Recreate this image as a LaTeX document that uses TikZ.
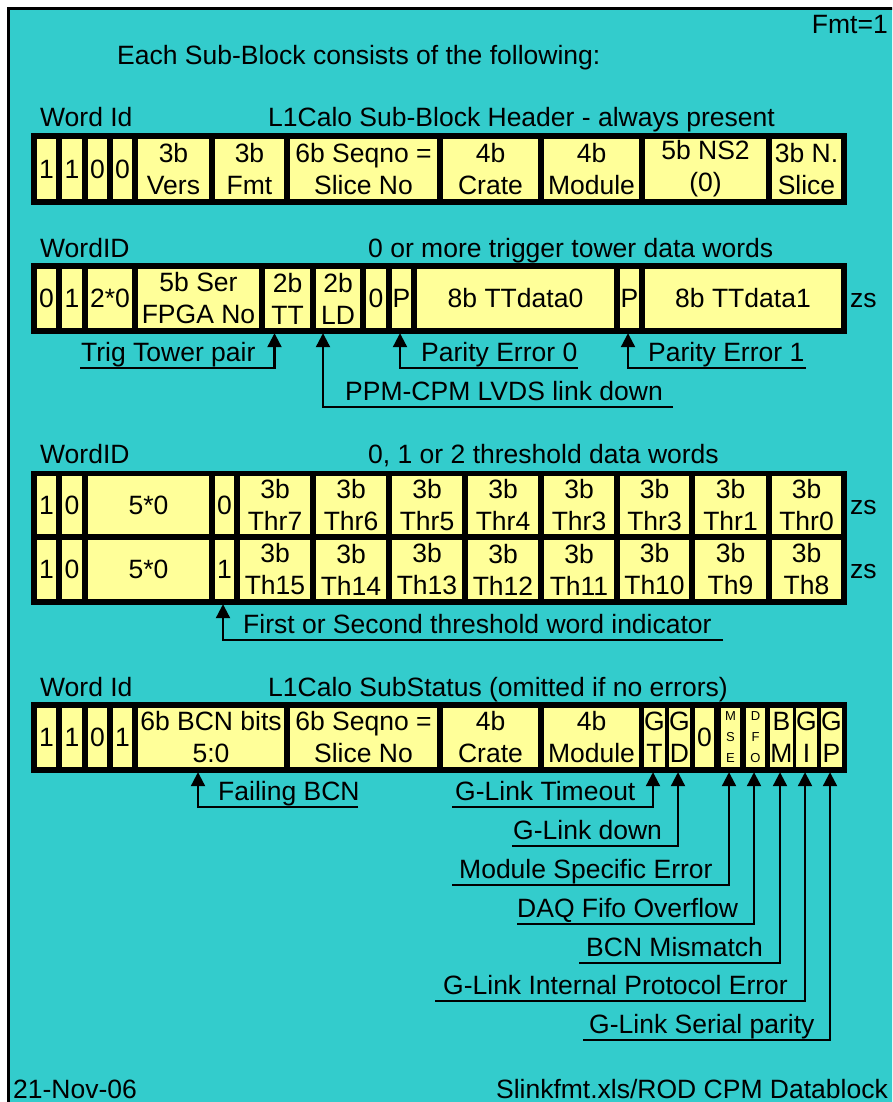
\documentclass[tikz,border=0pt]{standalone}
\usepackage{fontspec}
\setmainfont{Liberation Sans}
\usetikzlibrary{arrows.meta,calc}
\definecolor{bgcyan}{HTML}{33CCCC}
\definecolor{cellyellow}{HTML}{FFFF99}
\newcommand\bigfnt{\fontsize{26.5}{32}\selectfont}
\newcommand\tinyfnt{\fontsize{13}{21}\selectfont}
\newcommand\mkbox[7][cell]{%
  \pgfmathsetmacro\mkcx{(#3+#4)/2}%
  \pgfmathsetmacro\mkcy{(#5+#6)/2}%
  \pgfmathsetmacro\mkcw{#4-#3}%
  \pgfmathsetmacro\mkch{#6-#5}%
  \node[#1,minimum width=\mkcw pt,minimum height=\mkch pt] (#2) at (\mkcx,\mkcy) {#7};}
\begin{document}
\begin{tikzpicture}[x=1pt,y=-1pt,
  cell/.style={fill=cellyellow,inner sep=0pt,align=center,font=\bigfnt},
  tinycell/.style={fill=cellyellow,inner sep=0pt,align=center,font=\tinyfnt},
  bar/.style={fill=black,inner sep=0pt},
  lbl/.style={font=\bigfnt,inner sep=0pt,anchor=base west},
  conn/.style={line width=2.2pt,-{Triangle[width=14pt,length=14pt]},shorten >=5pt}]
\useasboundingbox (0,0) rectangle (892,1102);
\clip (0,0) rectangle (892,1102);
\fill[white] (0,0) rectangle (892,1102);
\draw[line width=3pt,fill=bgcyan] (8.5,8.5) rectangle (900,1110);

% top texts
\node[lbl,anchor=base east] (fmt) at (888,34) {Fmt=1};
\node[lbl] (intro) at (117,65) {Each Sub-Block consists of the following:};

% ---------- Header ----------
\node[lbl] (hid) at (40,127) {Word Id};
\node[lbl] (htitle) at (268,127) {L1Calo Sub-Block Header - always present};
\mkbox[bar]{hbar}{31}{847}{133}{205}{}
\mkbox{h1}{37}{56}{139}{199}{1}
\mkbox{h2}{62}{82}{139}{199}{1}
\mkbox{h3}{88}{107}{139}{199}{0}
\mkbox{h4}{113}{132}{139}{199}{0}
\mkbox{hVers}{138}{209}{139}{199}{3b\\Vers}
\mkbox{hFmt}{215}{284}{139}{199}{3b\\Fmt}
\mkbox{hSeq}{290}{437}{139}{199}{6b Seqno =\\Slice No}
\mkbox{hCrate}{443}{538}{139}{199}{4b\\Crate}
\mkbox{hMod}{544}{639}{139}{199}{4b\\Module}
\mkbox{hNS}{645}{766}{139}{199}{5b NS2\\(0)}
\mkbox{hNSl}{772}{841}{139}{199}{3b N.\\Slice}

% ---------- Trigger tower ----------
\node[lbl] (tid) at (40,257) {WordID};
\node[lbl] (ttitle) at (368,257) {0 or more trigger tower data words};
\mkbox[bar]{tbar}{31}{847}{263}{334}{}
\mkbox{t1}{37}{56}{269}{328}{0}
\mkbox{t2}{62}{82}{269}{328}{1}
\mkbox{t3}{88}{132}{269}{328}{2*0}
\mkbox{tSer}{138}{259}{269}{328}{5b Ser\\FPGA No}
\mkbox{cTT}{265}{310}{269}{328}{2b\\TT}
\mkbox{cLD}{316}{360}{269}{328}{2b\\LD}
\mkbox{t0}{366}{386}{269}{328}{0}
\mkbox{cP0}{392}{411}{269}{328}{P}
\mkbox{tD0}{417}{614}{269}{328}{8b TTdata0}
\mkbox{cP1}{620}{639}{269}{328}{P}
\mkbox{tD1}{645}{841}{269}{328}{8b TTdata1}
\node[lbl] (tzs) at (850,307) {zs};

\coordinate (eTT) at (80,368);
\node[lbl] (lTT) at (81,361) {Trig Tower pair};
\draw[conn] (eTT) -| ([xshift=-13pt]cTT.south);
\coordinate (eLD) at (673,407);
\node[lbl] (lLD) at (345,400) {PPM-CPM LVDS link down};
\draw[conn] (eLD) -| ([xshift=-15pt]cLD.south);
\coordinate (eP0) at (578,368);
\node[lbl] (lP0) at (421,361) {Parity Error 0};
\draw[conn] (eP0) -| ([xshift=-1.5pt]cP0.south);
\coordinate (eP1) at (806,368);
\node[lbl] (lP1) at (648,361) {Parity Error 1};
\draw[conn] (eP1) -| ([xshift=-1.5pt]cP1.south);

% ---------- Threshold ----------
\node[lbl] (thid) at (40,463) {WordID};
\node[lbl] (thtitle) at (368,463) {0, 1 or 2 threshold data words};
\mkbox[bar]{thbar}{31}{847}{471}{605}{}
\mkbox{ra1}{37}{56}{476}{534}{1}
\mkbox{ra2}{62}{82}{476}{534}{0}
\mkbox{ra3}{88}{209}{476}{534}{5*0}
\mkbox{cth1}{215}{234}{476}{534}{0}
\mkbox{ra5}{240}{310}{476}{534}{3b\\Thr7}
\mkbox{ra6}{316}{386}{476}{534}{3b\\Thr6}
\mkbox{ra7}{392}{462}{476}{534}{3b\\Thr5}
\mkbox{ra8}{468}{538}{476}{534}{3b\\Thr4}
\mkbox{ra9}{544}{614}{476}{534}{3b\\Thr3}
\mkbox{ra10}{620}{689}{476}{534}{3b\\Thr3}
\mkbox{ra11}{695}{766}{476}{534}{3b\\Thr1}
\mkbox{ra12}{772}{841}{476}{534}{3b\\Thr0}
\mkbox{rb1}{37}{56}{540}{599}{1}
\mkbox{rb2}{62}{82}{540}{599}{0}
\mkbox{rb3}{88}{209}{540}{599}{5*0}
\mkbox{cth2}{215}{234}{540}{599}{1}
\mkbox{rb5}{240}{310}{540}{599}{3b\\Th15}
\mkbox{rb6}{316}{386}{540}{599}{3b\\Th14}
\mkbox{rb7}{392}{462}{540}{599}{3b\\Th13}
\mkbox{rb8}{468}{538}{540}{599}{3b\\Th12}
\mkbox{rb9}{544}{614}{540}{599}{3b\\Th11}
\mkbox{rb10}{620}{689}{540}{599}{3b\\Th10}
\mkbox{rb11}{695}{766}{540}{599}{3b\\Th9}
\mkbox{rb12}{772}{841}{540}{599}{3b\\Th8}
\node[lbl] (zsa) at (850,514) {zs};
\node[lbl] (zsb) at (850,578) {zs};

\coordinate (eTh) at (723,640);
\node[lbl] (lTh) at (243,633) {First or Second threshold word indicator};
\draw[conn] (eTh) -| ([xshift=-1.5pt]cth2.south);

% ---------- SubStatus ----------
\node[lbl] (sid) at (40,696) {Word Id};
\node[lbl] (stitle) at (268,696) {L1Calo SubStatus (omitted if no errors)};
\mkbox[bar]{sbar}{31}{847}{702}{773}{}
\mkbox{s1}{37}{56}{708}{767}{1}
\mkbox{s2}{62}{82}{708}{767}{1}
\mkbox{s3}{88}{107}{708}{767}{0}
\mkbox{s4}{113}{132}{708}{767}{1}
\mkbox{cBCN}{138}{284}{708}{767}{6b BCN bits\\5:0}
\mkbox{sSeq}{290}{437}{708}{767}{6b Seqno =\\Slice No}
\mkbox{sCrate}{443}{538}{708}{767}{4b\\Crate}
\mkbox{sMod}{544}{639}{708}{767}{4b\\Module}
\mkbox{cGT}{645}{664}{708}{767}{G\\T}
\mkbox{cGD}{670}{689}{708}{767}{G\\D}
\mkbox{s0}{695}{714}{708}{767}{0}
\mkbox[tinycell]{cMSE}{721}{740}{708}{767}{M\\S\\E}
\mkbox[tinycell]{cDFO}{746}{765}{708}{767}{D\\F\\O}
\mkbox{cBM}{772}{791}{708}{767}{B\\M}
\mkbox{cGI}{797}{816}{708}{767}{G\\I}
\mkbox{cGP}{822}{841}{708}{767}{G\\P}

\coordinate (eBCN) at (358,807);
\node[lbl] (lBCN) at (218,800) {Failing BCN};
\draw[conn] (eBCN) -| ([xshift=-13pt]cBCN.south);
\coordinate (eGT) at (452,807);
\node[lbl] (lGT) at (455,800) {G-Link Timeout};
\draw[conn] (eGT) -| ([xshift=-1.5pt]cGT.south);
\coordinate (eGD) at (512,846);
\node[lbl] (lGD) at (513,839) {G-Link down};
\draw[conn] (eGD) -| ([xshift=-1.5pt]cGD.south);
\coordinate (eMSE) at (452,885);
\node[lbl] (lMSE) at (459,878) {Module Specific Error};
\draw[conn] (eMSE) -| ([xshift=-1.5pt]cMSE.south);
\coordinate (eDFO) at (517,924);
\node[lbl] (lDFO) at (517,917) {DAQ Fifo Overflow};
\draw[conn] (eDFO) -| ([xshift=-1.5pt]cDFO.south);
\coordinate (eBM) at (579,963);
\node[lbl] (lBM) at (586,956) {BCN Mismatch};
\draw[conn] (eBM) -| ([xshift=-1.5pt]cBM.south);
\coordinate (eGI) at (435,1001);
\node[lbl] (lGI) at (443,994) {G-Link Internal Protocol Error};
\draw[conn] (eGI) -| ([xshift=-1.5pt]cGI.south);
\coordinate (eGP) at (583,1040);
\node[lbl] (lGP) at (589,1033) {G-Link Serial parity};
\draw[conn] (eGP) -| ([xshift=-1.5pt]cGP.south);

% footer
\node[lbl] (date) at (13,1098) {21-Nov-06};
\node[lbl,anchor=base east] (src) at (888,1098) {Slinkfmt.xls/ROD CPM Datablock};
\end{tikzpicture}
\end{document}
